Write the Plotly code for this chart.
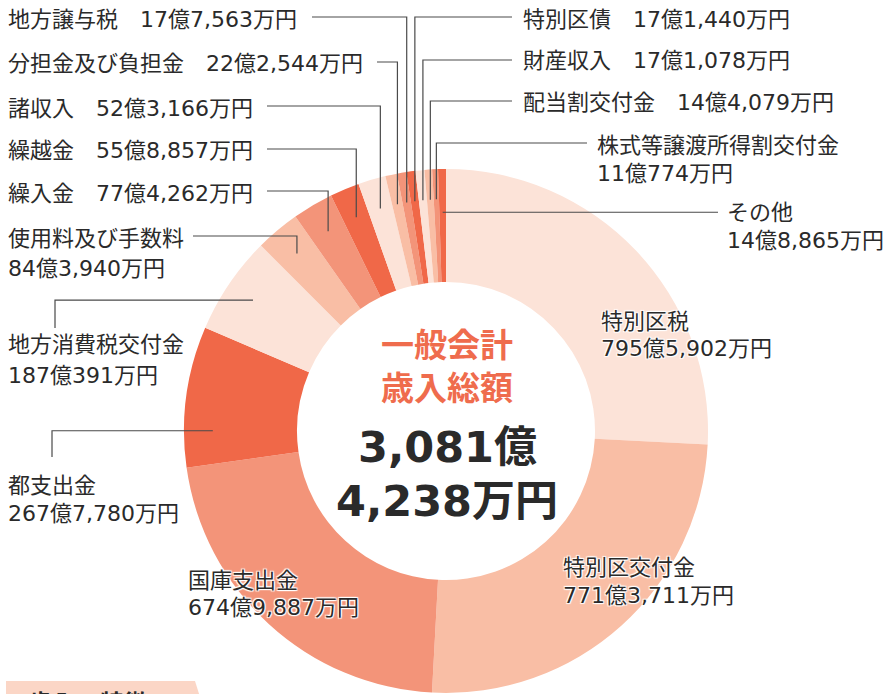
import math
import plotly.graph_objects as go

# ---------------- data ----------------
categories = ["特別区税", "特別区交付金", "国庫支出金", "都支出金", "地方消費税交付金",
              "使用料及び手数料", "繰入金", "繰越金", "諸収入", "分担金及び負担金",
              "地方譲与税", "特別区債", "財産収入", "配当割交付金",
              "株式等譲渡所得割交付金", "その他"]
# amounts in 万円
values_man = [7955902, 7713711, 6749887, 2677780, 1870391,
              843940, 774262, 558857, 523166, 222544,
              177563, 171440, 171078, 144079,
              110774, 148865]
center_title = ["一般会計", "歳入総額"]
center_total = ["3,081億", "4,238万円"]
section_tab = "歳入の特徴"

# ---------------- style / layout ----------------
W, H = 890, 694
CX, CY, R = 446, 431, 262
HOLE = 149 / 262
PALETTE = ["#fce3d8", "#f9bea5", "#f39479", "#f06848"]
TEXT = "#2a2a2a"
LINE = "#4a4a4a"
FONT = "DejaVu Sans, Noto Sans CJK JP, sans-serif"
CJK = "Noto Sans CJK JP, sans-serif"
SHADOW = "white 1px 1px 1px, white -1px -1px 1px, white 1px -1px 1px, white -1px 1px 1px"

# label layout per category (pixel positions of text; leader geometry)
specs = [
    dict(mode="two", x=599, y=(322, 348), halo=True),
    dict(mode="two", x=561, y=(567, 595), halo=True),
    dict(mode="two", x=186, y=(580, 607), halo=True),
    dict(mode="two", x=6, y=(485, 513), lead=("up", 52, 457), r=0.89, t=0.26),
    dict(mode="two", x=6, y=(345, 375), lead=("up", 55, 328), r=0.89, t=0.5),
    dict(mode="two", x=6, y=(238, 268), lead=("down", 193, 236), r=0.885, t=0.5),
    dict(mode="one", x=6, y=193, lead=("down", 267, 191), r=0.885, t=0.5),
    dict(mode="one", x=6, y=150, lead=("down", 267, 149), r=0.885, t=0.5),
    dict(mode="one", x=6, y=108, lead=("down", 267, 106), r=0.885, t=0.5),
    dict(mode="one", x=6, y=63, lead=("down", 377, 62), r=0.885, t=0.5),
    dict(mode="one", x=6, y=19, lead=("down", 312, 17), r=0.885, t=0.5),
    dict(mode="one", x=521, y=19, lead=("down", 512, 17), r=0.885, t=0.5),
    dict(mode="one", x=521, y=61, lead=("down", 512, 60), r=0.885, t=0.5),
    dict(mode="one", x=521, y=102, lead=("down", 512, 101), r=0.885, t=0.5),
    dict(mode="two", x=595, y=(145, 173), lead=("down", 587, 143), r=0.885, t=0.5),
    dict(mode="two", x=725, y=(213, 240), lead=("horiz", 718, None), r=0.835, t=0.5),
]


def fmt(v):
    oku, man = divmod(v, 10000)
    return f"{oku}億{man:,}万円"


def px(x, y):
    return x / W, 1 - y / H


total = sum(values_man)
colors = [PALETTE[i % 4] for i in range(len(values_man))]

fig = go.Figure()
fig.add_trace(go.Pie(
    labels=categories, values=values_man, sort=False, direction="clockwise",
    rotation=0, hole=HOLE, textinfo="none", showlegend=False,
    marker=dict(colors=colors, line=dict(width=0)),
    domain=dict(x=[(CX - R) / W, (CX + R) / W],
                y=[(H - CY - R) / H, (H - CY + R) / H]),
    hovertemplate="%{label}: %{value:,}万円<extra></extra>",
))

annotations = []
shapes = []


def add_text(x, y, text, size=22, color=TEXT, family=FONT, weight="normal",
             xanchor="left", halo=False):
    fx, fy = px(x, y)
    f = dict(size=size, color=color, family=family, weight=weight)
    if halo:
        f["shadow"] = SHADOW
    annotations.append(dict(x=fx, y=fy, xref="paper", yref="paper", text=text,
                            showarrow=False, xanchor=xanchor, yanchor="middle",
                            font=f))


cum = 0
for cat, v, sp in zip(categories, values_man, specs):
    start = cum
    cum += v
    halo = sp.get("halo", False)
    if sp["mode"] == "two":
        add_text(sp["x"], sp["y"][0], cat, halo=halo)
        add_text(sp["x"], sp["y"][1], fmt(v), halo=halo)
    else:
        add_text(sp["x"], sp["y"], cat + "\u3000" + fmt(v))
    if "lead" in sp:
        frac = (start + sp["t"] * v) / total
        ang = 2 * math.pi * frac  # clockwise from 12 o'clock
        r = sp["r"] * R
        ex = CX + r * math.sin(ang)
        ey = CY - r * math.cos(ang)
        kind, lx, ly = sp["lead"]
        if kind == "down":
            pts = [(lx, ly), (ex, ly), (ex, ey)]
        elif kind == "up":
            pts = [(lx, ly), (lx, ey), (ex, ey)]
        else:
            pts = [(lx, ey), (ex, ey)]
        path = "M " + " L ".join(f"{px(a, b)[0]:.5f},{px(a, b)[1]:.5f}" for a, b in pts)
        shapes.append(dict(type="path", path=path, xref="paper", yref="paper",
                           line=dict(color=LINE, width=1.2), layer="above"))

# centre text
add_text(447, 364, "<br>".join(center_title), size=33, color="#ef6c4d", family=CJK,
         weight="bold", xanchor="center")
add_text(447, 447, center_total[0], size=43, color=TEXT, weight="bold",
         xanchor="center")
add_text(447, 501, center_total[1], size=43, color=TEXT, weight="bold",
         xanchor="center")

# section tab at the bottom (cut off by the page edge)
tab = [(6, 681), (195, 681), (201, 700), (6, 700)]
shapes.append(dict(type="path", xref="paper", yref="paper",
                   path="M " + " L ".join(f"{px(a, b)[0]:.5f},{px(a, b)[1]:.5f}" for a, b in tab) + " Z",
                   fillcolor="#fbd6c6", line=dict(width=0), layer="below"))
add_text(26, 701, section_tab, size=24, family=CJK, weight="bold")

fig.update_layout(
    width=W, height=H, margin=dict(l=0, r=0, t=0, b=0),
    paper_bgcolor="white", plot_bgcolor="white",
    annotations=annotations, shapes=shapes,
    font=dict(family=FONT, color=TEXT),
)

fig.write_html("out.html", config={"displayModeBar": False},
               post_script="document.body.style.margin='0';document.body.style.overflow='hidden';")
